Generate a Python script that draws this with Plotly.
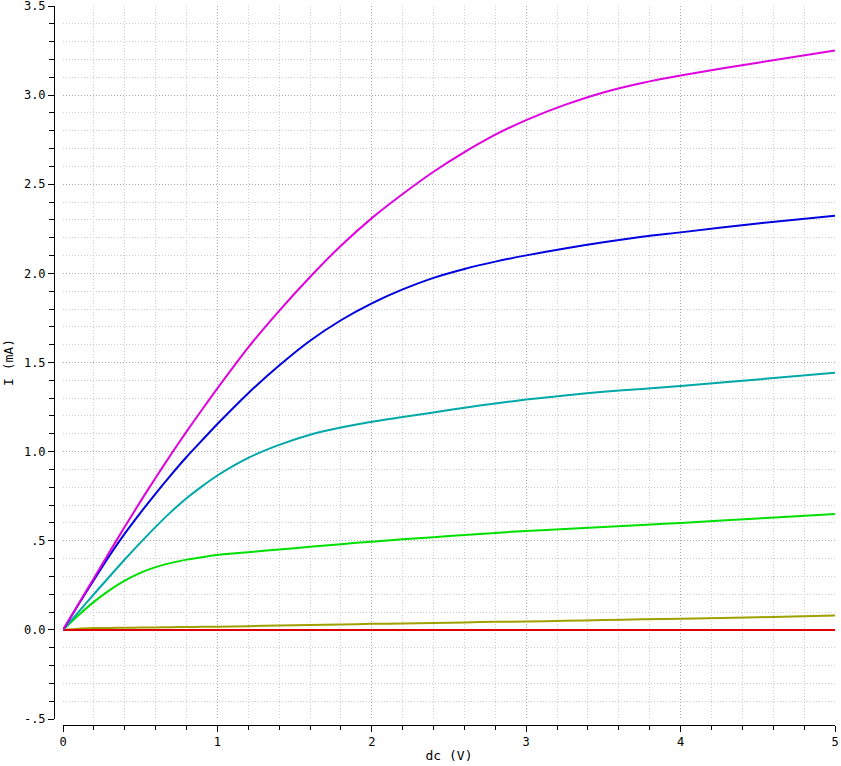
import plotly.graph_objects as go

# Drain voltage (V)
vds = [0, 0.1, 0.2, 0.3, 0.4, 0.5, 0.6, 0.7, 0.8, 0.9, 1.0, 1.2, 1.4, 1.6, 1.8, 2.0,
       2.2, 2.4, 2.6, 2.8, 3.0, 3.25, 3.5, 3.75, 4.0, 4.5, 5.0]

# Currents (mA)
i_olive = [0, 0.007, 0.010, 0.011, 0.012, 0.013, 0.014, 0.015, 0.016, 0.017, 0.018, 0.021, 0.024, 0.027,
           0.030, 0.034, 0.036, 0.039, 0.042, 0.045, 0.047, 0.051, 0.055, 0.059, 0.063, 0.071, 0.080]
i_red = [0, 0, 0, 0, 0, 0, 0, 0, 0, 0, 0, 0, 0, 0,
         0, 0, 0, 0, 0, 0, 0, 0, 0, 0, 0, 0, 0]
i_green = [0, 0.082, 0.157, 0.222, 0.276, 0.320, 0.352, 0.376, 0.394, 0.408, 0.420, 0.436, 0.451, 0.466,
           0.481, 0.495, 0.508, 0.520, 0.532, 0.544, 0.555, 0.566, 0.577, 0.588, 0.600, 0.625, 0.650]
i_cyan = [0, 0.100, 0.200, 0.298, 0.395, 0.488, 0.578, 0.662, 0.738, 0.805, 0.866, 0.965, 1.038, 1.095,
          1.135, 1.168, 1.194, 1.220, 1.246, 1.270, 1.292, 1.315, 1.336, 1.352, 1.368, 1.405, 1.443]
i_blue = [0, 0.142, 0.280, 0.415, 0.540, 0.655, 0.765, 0.870, 0.970, 1.063, 1.155, 1.328, 1.483, 1.622,
          1.737, 1.832, 1.910, 1.975, 2.025, 2.066, 2.101, 2.140, 2.175, 2.205, 2.230, 2.280, 2.324]
i_magenta = [0, 0.145, 0.290, 0.435, 0.578, 0.718, 0.853, 0.985, 1.112, 1.235, 1.355, 1.585, 1.790, 1.980,
             2.155, 2.310, 2.445, 2.570, 2.680, 2.778, 2.860, 2.945, 3.015, 3.068, 3.110, 3.182, 3.250]

series = [
    ("olive", i_olive, "#a0a000"),
    ("red", i_red, "#e00000"),
    ("green", i_green, "#00e000"),
    ("cyan", i_cyan, "#00a8a8"),
    ("blue", i_blue, "#0000e0"),
    ("magenta", i_magenta, "#e000e0"),
]

x_ticks = [0, 1, 2, 3, 4, 5]
x_ticktext = ["0", "1", "2", "3", "4", "5"]
y_ticks = [-0.5, 0, 0.5, 1.0, 1.5, 2.0, 2.5, 3.0, 3.5]
y_ticktext = ["-.5", "0.0", ".5", "1.0", "1.5", "2.0", "2.5", "3.0", "3.5"]

fig = go.Figure()
for name, ys, col in series:
    fig.add_trace(go.Scatter(x=vds, y=ys, mode="lines", name=name,
                             line=dict(color=col, width=2, shape="spline", smoothing=0.8)))

FONT = "DejaVu Sans Mono"
W, H = 841, 766
ml, mr, mt, mb = 54, 6, 6, 41
pw = W - ml - mr
ph = H - mt - mb

common = dict(
    showline=True, linecolor="black", linewidth=1,
    ticks="outside", ticklen=6, tickcolor="black", tickwidth=1,
    showgrid=True, gridcolor="#a8a8a8", griddash="1px,2px", gridwidth=1,
    zeroline=False, automargin=False, ticklabeloverflow="allow",
    tickfont=dict(family=FONT, size=12, color="black"),
)

fig.update_layout(
    width=W, height=H,
    margin=dict(l=ml, r=mr, t=mt, b=mb, pad=0),
    paper_bgcolor="white", plot_bgcolor="white",
    showlegend=False,
    font=dict(family=FONT, size=13, color="black"),
    xaxis=dict(
        domain=[9 / pw, 1], anchor="free", position=0,
        range=[0, 5], tickvals=x_ticks, ticktext=x_ticktext,
        minor=dict(dtick=0.2, ticks="outside", ticklen=4, tickcolor="black",
                   showgrid=True, gridcolor="#cccccc", griddash="1px,2px", gridwidth=1),
        title=dict(text="dc (V)", standoff=2, font=dict(family=FONT, size=13)),
        **common,
    ),
    yaxis=dict(
        domain=[6 / ph, 1], anchor="free", position=0,
        range=[-0.5, 3.5], tickvals=y_ticks, ticktext=y_ticktext,
        minor=dict(dtick=0.1, ticks="outside", ticklen=5, tickcolor="black",
                   showgrid=True, gridcolor="#cccccc", griddash="1px,2px", gridwidth=1),
        title=dict(text="I (mA)", standoff=6, font=dict(family=FONT, size=13)),
        **common,
    ),
)

fig.write_html(
    "out.html",
    config={"displayModeBar": False},
    post_script="document.body.style.margin='0';document.body.style.overflow='hidden';",
)
